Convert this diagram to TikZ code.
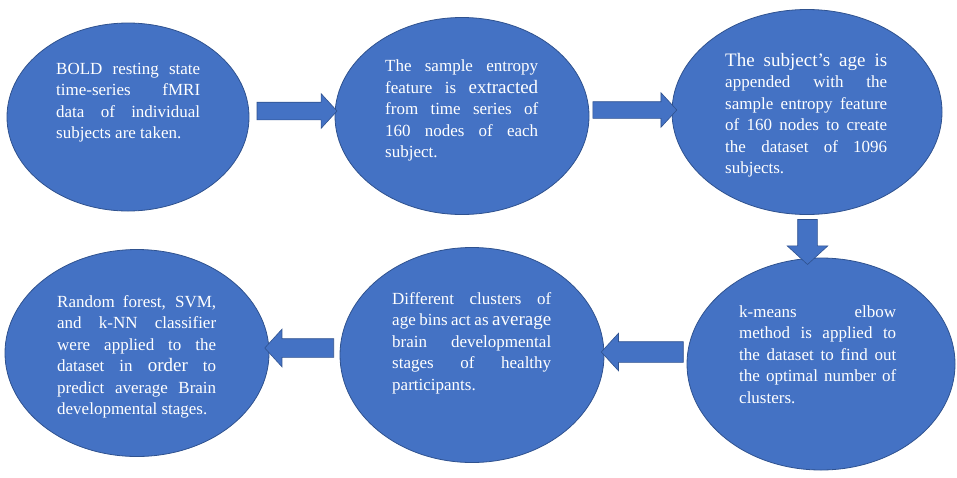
\documentclass[tikz,border=0pt]{standalone}
\usepackage{fontspec}
\setmainfont{Liberation Serif}
\usetikzlibrary{shapes.geometric,shapes.arrows}

\definecolor{boxblue}{HTML}{4472C4}
\definecolor{edgeblue}{HTML}{2F528F}
\newcommand{\bigtxt}[1]{{\fontsize{19}{21.5}\selectfont #1}}

\tikzset{
  stage/.style={ellipse, draw=edgeblue, fill=boxblue, line width=0.8pt, inner sep=0pt},
  stagetext/.style={anchor=north west, inner sep=0pt, text=white, align=justify,
    font=\fontsize{17}{21.5}\selectfont,
    execute at begin node={\tolerance=10000 \hyphenpenalty=10000 \exhyphenpenalty=10000 }},
  blockarrow/.style={single arrow, draw=edgeblue, fill=boxblue, line width=0.6pt,
    inner xsep=0pt, outer sep=0pt, single arrow tip angle=95},
}

\begin{document}
\begin{tikzpicture}[x=1pt, y=-1pt]
  \useasboundingbox (0,0) rectangle (957,477);

  % Ellipses (top row left to right, bottom row right to left)
  \node[stage, minimum width=242pt, minimum height=188pt] (e1) at (128,117) {};
  \node[stage, minimum width=254pt, minimum height=197pt] (e2) at (462,116) {};
  \node[stage, minimum width=270pt, minimum height=205pt] (e3) at (807,112) {};
  \node[stage, minimum width=268pt, minimum height=212pt] (e4) at (821,364) {};
  \node[stage, minimum width=264pt, minimum height=215pt] (e5) at (472,355) {};
  \node[stage, minimum width=264pt, minimum height=207pt] (e6) at (137,353) {};

  % Block arrows
  \node[blockarrow, minimum height=80pt, minimum width=34pt, inner ysep=8.5pt,
    single arrow head extend=8.5pt] (a1) at (293,111) {};
  \node[blockarrow, minimum height=84pt, minimum width=34pt, inner ysep=8pt,
    single arrow head extend=9pt] (a2) at (631,110) {};
  \node[blockarrow, rotate=-90, minimum height=45pt, minimum width=40pt, inner ysep=9.5pt,
    single arrow head extend=10.5pt] (a3) at (807.5,237.5) {};
  \node[blockarrow, rotate=180, minimum height=82pt, minimum width=37pt, inner ysep=10pt,
    single arrow head extend=8.5pt] (a4) at (647,352) {};
  \node[blockarrow, rotate=180, minimum height=69pt, minimum width=37pt, inner ysep=9pt,
    single arrow head extend=9.5pt] (a5) at (303.5,348) {};

  % Texts
  \node[stagetext, text width=144pt] (t1) at (56,63)
    {BOLD resting state\linebreak time-series fMRI\linebreak data of individual\linebreak subjects are taken.};
  \node[stagetext, text width=153pt] (t2) at (385,60)
    {The sample entropy\linebreak feature is \bigtxt{extracted}\linebreak from time series of\linebreak 160 nodes of each\linebreak subject.};
  \node[stagetext, text width=162pt] (t3) at (725,53)
    {\bigtxt{The subject's age is}\linebreak appended with the\linebreak sample entropy feature\linebreak of 160 nodes to create\linebreak the dataset of 1096\linebreak subjects.};
  \node[stagetext, text width=157pt] (t4) at (739,305)
    {k-means elbow\linebreak method is applied to\linebreak the dataset to find out\linebreak the optimal number of\linebreak clusters.};
  \node[stagetext, text width=159pt] (t5) at (392,292)
    {Different clusters of\linebreak age bins act as \bigtxt{average}\linebreak brain developmental\linebreak stages of healthy\linebreak participants.};
  \node[stagetext, text width=159pt] (t6) at (57,295)
    {Random forest, SVM,\linebreak and k-NN classifier\linebreak were applied to the\linebreak dataset in \bigtxt{order} to\linebreak predict average Brain\linebreak developmental stages.};
\end{tikzpicture}
\end{document}
